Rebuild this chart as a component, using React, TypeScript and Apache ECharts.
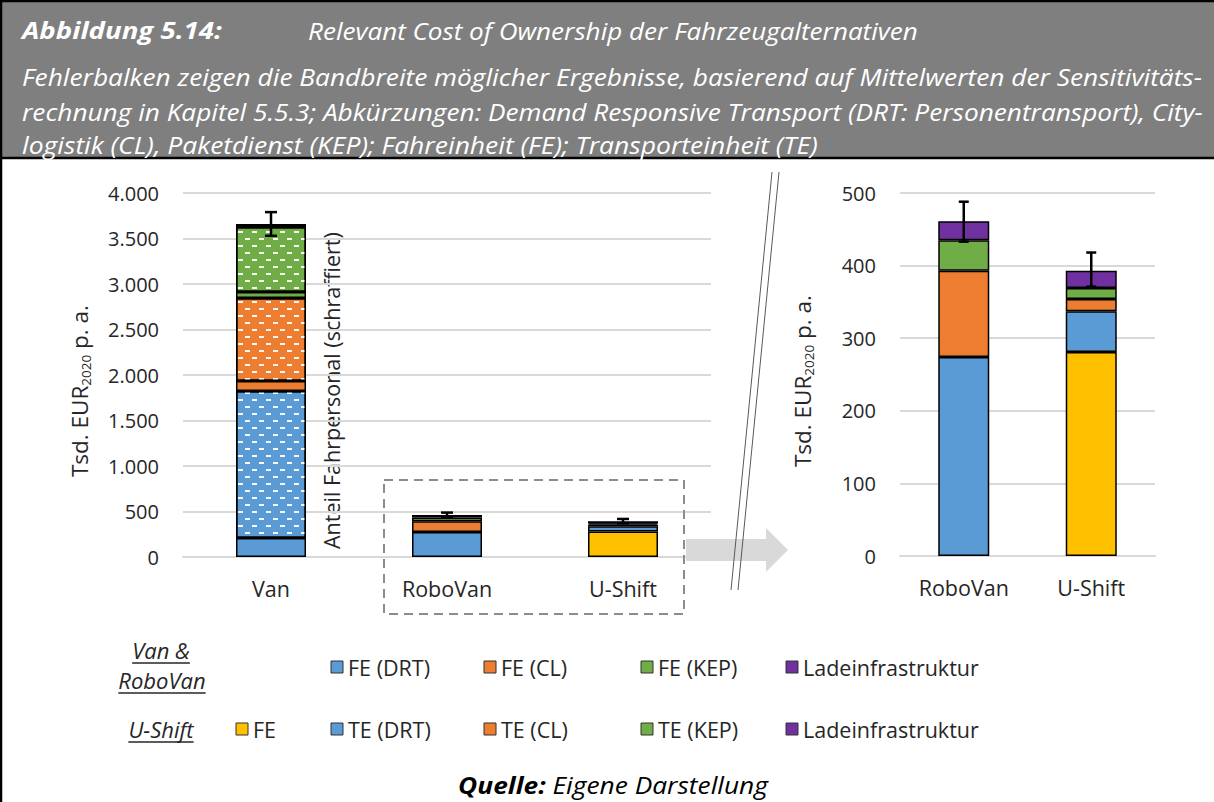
import React, { useEffect, useRef } from 'react';
import * as echarts from 'echarts';

// Categories of the overview chart and of the enlarged detail chart
const overviewCategories = ['Van', 'RoboVan', 'U-Shift'];
const detailCategories = ['RoboVan', 'U-Shift'];

// Stacked cost components in Tsd. EUR2020 p. a. (order: Van, RoboVan, U-Shift)
const feUShift = [null, null, 281];
const drtBase = [209, 274, 56];
const drtDriver = [1615, null, null];
const clBase = [110, 119, 17];
const clDriver = [912, null, null];
const kepBase = [66, 42, 15];
const kepDriver = [714, null, null];
const chargingInfra = [33, 26, 24];

// Range of possible results (error bars)
const rangeLow = [3530, 433, 371];
const rangeHigh = [3790, 488, 418];

// Value axes
const overviewAxis = { min: 0, max: 4000, interval: 500 };
const detailAxis = { min: 0, max: 500, interval: 100 };

// Legend entries
const vanLegend = ['FE (DRT)', 'FE (CL)', 'FE (KEP)', 'Ladeinfrastruktur'];
const uShiftLegend = ['FE', 'TE (DRT)', 'TE (CL)', 'TE (KEP)', 'Ladeinfrastruktur'];

// Header and footer texts
const figureLabel = 'Abbildung 5.14:';
const figureTitle = 'Relevant Cost of Ownership der Fahrzeugalternativen';
const figureNote = [
  'Fehlerbalken zeigen die Bandbreite möglicher Ergebnisse, basierend auf Mittelwerten der Sensitivitäts-',
  'rechnung in Kapitel 5.5.3; Abkürzungen: Demand Responsive Transport (DRT: Personentransport), City-',
  'logistik (CL), Paketdienst (KEP); Fahreinheit (FE); Transporteinheit (TE)',
];

const FONT = '"Open Sans", "Noto Sans", sans-serif';
const INK = '#262626';
const GRID = '#d9d9d9';
const LABEL_SIZE = 21.5;
const TICK_SIZE = 20;
const C = {
  yellow: '#FFC000',
  blue: '#5B9BD5',
  orange: '#ED7D31',
  green: '#70AD47',
  purple: '#7030A0',
};

const driverDecal = {
  symbol: 'rect',
  symbolSize: 1,
  color: 'rgba(255,255,255,0.95)',
  dashArrayX: [
    [5, 9],
    [0, 7, 5, 2],
  ],
  dashArrayY: [1.8, 4.3],
  rotation: 0,
};

const stackOrder = [
  { name: 'FE U-Shift', values: feUShift, color: C.yellow, hatched: false },
  { name: 'DRT', values: drtBase, color: C.blue, hatched: false },
  { name: 'DRT Fahrpersonal', values: drtDriver, color: C.blue, hatched: true },
  { name: 'CL', values: clBase, color: C.orange, hatched: false },
  { name: 'CL Fahrpersonal', values: clDriver, color: C.orange, hatched: true },
  { name: 'KEP', values: kepBase, color: C.green, hatched: false },
  { name: 'KEP Fahrpersonal', values: kepDriver, color: C.green, hatched: true },
  { name: 'Ladeinfrastruktur', values: chargingInfra, color: C.purple, hatched: false },
];

const legendColors = {
  'FE (DRT)': C.blue,
  'FE (CL)': C.orange,
  'FE (KEP)': C.green,
  FE: C.yellow,
  'TE (DRT)': C.blue,
  'TE (CL)': C.orange,
  'TE (KEP)': C.green,
  Ladeinfrastruktur: C.purple,
};
const legendColumnX = {
  'FE (DRT)': 331,
  'TE (DRT)': 331,
  'FE (CL)': 484,
  'TE (CL)': 484,
  'FE (KEP)': 641,
  'TE (KEP)': 641,
  FE: 236,
  Ladeinfrastruktur: 786,
};

let measureCtx: CanvasRenderingContext2D | null = null;
function textWidth(text: string, font: string) {
  if (!measureCtx) measureCtx = document.createElement('canvas').getContext('2d');
  measureCtx!.font = font;
  return measureCtx!.measureText(text).width;
}

function fittedText(
  text: string,
  x: number,
  y: number,
  width: number,
  size: number,
  weight: string,
  color: string
) {
  const w = textWidth(text, `italic ${weight} ${size}px ${FONT}`);
  return {
    type: 'text',
    x,
    y,
    scaleX: width / w,
    style: {
      text,
      fontFamily: FONT,
      fontSize: size,
      fontStyle: 'italic',
      fontWeight: weight,
      fill: color,
      align: 'left',
      verticalAlign: 'middle',
    },
  };
}

function thousands(v: number) {
  return String(v).replace(/\B(?=(\d{3})+(?!\d))/g, '.');
}

function errorBarSeries(axisIndex: number, offset: number, cap: number) {
  const cats = axisIndex === 0 ? overviewCategories : detailCategories;
  return {
    type: 'custom',
    xAxisIndex: axisIndex,
    yAxisIndex: axisIndex,
    z: 10,
    silent: true,
    encode: { x: 0, y: [1, 2] },
    data: cats.map((_, i) => [i, rangeLow[i + offset], rangeHigh[i + offset]]),
    renderItem: (_params: any, api: any) => {
      const i = api.value(0);
      const lo = api.coord([i, api.value(1)]);
      const hi = api.coord([i, api.value(2)]);
      const style = { stroke: '#000', lineWidth: 2.5 };
      return {
        type: 'group',
        children: [
          { type: 'line', shape: { x1: lo[0], y1: lo[1], x2: hi[0], y2: hi[1] }, style },
          { type: 'line', shape: { x1: hi[0] - cap, y1: hi[1], x2: hi[0] + cap, y2: hi[1] }, style },
          { type: 'line', shape: { x1: lo[0] - cap, y1: lo[1], x2: lo[0] + cap, y2: lo[1] }, style },
        ],
      };
    },
  };
}

function axisTitle(x: number, y: number) {
  return {
    type: 'text',
    x,
    y,
    rotation: Math.PI / 2,
    style: {
      text: '{m|Tsd. EUR}{s|2020}{m| p. a.}',
      align: 'center',
      verticalAlign: 'middle',
      fill: INK,
      rich: {
        m: { fontFamily: FONT, fontSize: 22.5, lineHeight: 28, fill: INK },
        s: { fontFamily: FONT, fontSize: 13.5, lineHeight: 15, verticalAlign: 'bottom', fill: INK },
      },
    },
  };
}

function underlinedLabel(text: string, cx: number, cy: number) {
  const size = 22;
  const w = textWidth(text, `italic ${size}px ${FONT}`);
  return [
    {
      type: 'text',
      x: cx,
      y: cy,
      style: {
        text,
        fontFamily: FONT,
        fontSize: size,
        fontStyle: 'italic',
        fill: INK,
        align: 'center',
        verticalAlign: 'middle',
      },
    },
    {
      type: 'line',
      shape: { x1: cx - w / 2, y1: cy + 13, x2: cx + w / 2, y2: cy + 13 },
      style: { stroke: INK, lineWidth: 1.3 },
    },
  ];
}

function legendRow(items: string[], y: number) {
  const out: any[] = [];
  items.forEach((name) => {
    const x = (legendColumnX as any)[name];
    out.push({
      type: 'rect',
      shape: { x, y: y - 6, width: 12, height: 12 },
      style: { fill: (legendColors as any)[name], stroke: '#333', lineWidth: 1 },
    });
    out.push({
      type: 'text',
      x: x + 17,
      y,
      style: {
        text: name,
        fontFamily: FONT,
        fontSize: LABEL_SIZE,
        fill: INK,
        align: 'left',
        verticalAlign: 'middle',
      },
    });
  });
  return out;
}

function buildOption() {
  const series: any[] = [];
  [0, 1].forEach((g) => {
    stackOrder.forEach((s) => {
      const data = g === 0 ? s.values : s.values.slice(1);
      if (data.every((v) => v == null)) return;
      const itemStyle: any = {
        color: s.color,
        borderColor: '#000',
        borderWidth: 1.5,
      };
      if (s.hatched) itemStyle.decal = driverDecal;
      series.push({
        type: 'bar',
        name: s.name,
        xAxisIndex: g,
        yAxisIndex: g,
        stack: 'total' + g,
        barWidth: g === 0 ? 70 : 51,
        data,
        itemStyle,
        silent: true,
      });
    });
  });
  series.push(errorBarSeries(0, 0, 6));
  series.push(errorBarSeries(1, 1, 5));

  const catAxis = (g: number, data: string[]) => ({
    type: 'category',
    gridIndex: g,
    data,
    axisLine: { lineStyle: { color: GRID, width: 2 } },
    axisTick: { show: false },
    axisLabel: { fontFamily: FONT, fontSize: LABEL_SIZE, color: INK, margin: 20 },
  });
  const valAxis = (g: number, a: any) => ({
    type: 'value',
    gridIndex: g,
    min: a.min,
    max: a.max,
    interval: a.interval,
    axisLine: { show: false },
    axisTick: { show: false },
    splitLine: { lineStyle: { color: GRID, width: 2 } },
    axisLabel: {
      fontFamily: FONT,
      fontSize: TICK_SIZE,
      color: INK,
      margin: 24,
      formatter: (v: number) => thousands(v),
    },
  });

  const graphic: any[] = [
    // header band
    {
      type: 'rect',
      shape: { x: 1, y: 1, width: 1230, height: 157 },
      style: { fill: '#7f7f7f', stroke: '#000', lineWidth: 2.5 },
    },
    fittedText(figureLabel, 22, 30, 200, 24, 'bold', '#fff'),
    fittedText(figureTitle, 308, 30, 610, 24, 'normal', '#fff'),
    fittedText(figureNote[0], 22, 76, 1181, 24, 'normal', '#fff'),
    fittedText(figureNote[1], 22, 111, 1181, 24, 'normal', '#fff'),
    fittedText(figureNote[2], 22, 145, 796, 24, 'normal', '#fff'),
    // frame line on the left
    {
      type: 'line',
      shape: { x1: 1, y1: 158, x2: 1, y2: 802 },
      style: { stroke: '#000', lineWidth: 2.5 },
    },
    // arrow pointing at the detail chart
    {
      type: 'polygon',
      shape: {
        points: [
          [686, 539],
          [766, 539],
          [766, 528],
          [788, 550],
          [766, 572],
          [766, 561],
          [686, 561],
        ],
      },
      style: { fill: GRID },
    },
    // axis break marks
    {
      type: 'line',
      shape: { x1: 772, y1: 172, x2: 731, y2: 590 },
      style: { stroke: '#595959', lineWidth: 1 },
    },
    {
      type: 'line',
      shape: { x1: 779, y1: 172, x2: 738, y2: 590 },
      style: { stroke: '#595959', lineWidth: 1 },
    },
    // dashed frame around the enlarged categories
    {
      type: 'rect',
      z: 20,
      shape: { x: 384, y: 480, width: 300, height: 134 },
      style: { fill: 'none', stroke: '#8c8c8c', lineWidth: 2, lineDash: [9, 6] },
    },
    {
      type: 'text',
      x: 331,
      y: 549,
      rotation: Math.PI / 2,
      style: {
        text: 'Anteil Fahrpersonal (schraffiert)',
        fontFamily: FONT,
        fontSize: LABEL_SIZE,
        fill: INK,
        align: 'left',
        verticalAlign: 'middle',
      },
    },
    axisTitle(79, 391),
    axisTitle(802, 381),
    ...underlinedLabel('Van &', 161, 650),
    ...underlinedLabel('RoboVan', 162, 680),
    ...underlinedLabel('U-Shift', 161, 729),
    ...legendRow(vanLegend, 667),
    ...legendRow(uShiftLegend, 729),
  ];

  // footer
  const qW =
    textWidth('Quelle:', `italic bold 24px ${FONT}`) +
    textWidth(' Eigene Darstellung', `italic 24px ${FONT}`);
  graphic.push({
    type: 'text',
    x: 613,
    y: 784,
    scaleX: 310 / qW,
    style: {
      text: '{b|Quelle:}{n| Eigene Darstellung}',
      align: 'center',
      verticalAlign: 'middle',
      rich: {
        b: { fontFamily: FONT, fontSize: 24, fontStyle: 'italic', fontWeight: 'bold', fill: '#000' },
        n: { fontFamily: FONT, fontSize: 24, fontStyle: 'italic', fill: '#000' },
      },
    },
  });

  return {
    animation: false,
    backgroundColor: '#fff',
    textStyle: { fontFamily: FONT },
    grid: [
      { left: 183, top: 193, width: 528, height: 364 },
      { left: 900, top: 193, width: 255, height: 363 },
    ],
    xAxis: [catAxis(0, overviewCategories), catAxis(1, detailCategories)],
    yAxis: [valAxis(0, overviewAxis), valAxis(1, detailAxis)],
    series,
    graphic,
  };
}

export default function App() {
  const ref = useRef<HTMLDivElement>(null);
  useEffect(() => {
    if (!ref.current) return;
    const chart = echarts.init(ref.current, null, { renderer: 'svg' });
    chart.setOption(buildOption() as any);
    return () => chart.dispose();
  }, []);
  return (
    <div
      ref={ref}
      style={{ position: 'absolute', left: 0, top: 0, width: 1214, height: 802, background: '#fff' }}
    />
  );
}
